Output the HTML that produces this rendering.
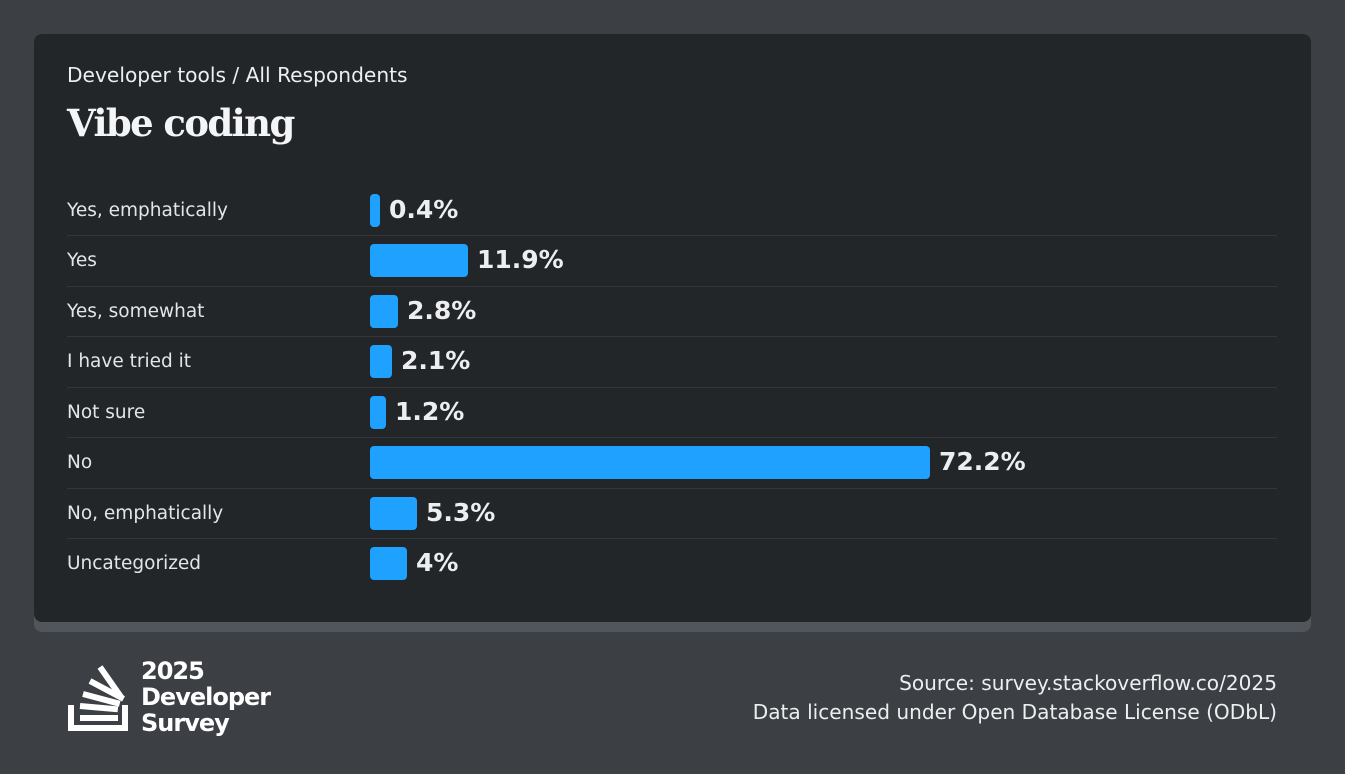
<!DOCTYPE html>
<html><head><meta charset="utf-8"><style>
body{margin:0;width:1345px;height:774px;background:#3c4045;font-family:"DejaVu Sans","Liberation Sans",sans-serif;overflow:hidden;position:relative}
.shadow{position:absolute;left:34px;top:40px;width:1277px;height:592px;background:#51565c;border-radius:8px}
.card{position:absolute;left:34px;top:34px;width:1277px;height:588px;background:#232629;border-radius:8px}
.t{position:absolute;color:#eceeef;white-space:nowrap}
.lab{font-size:18.5px;left:67px;color:#e3e5e7;margin-top:1px}
.bar{position:absolute;left:370px;height:33px;background:#1ea1ff;border-radius:4px}
.val{font-size:25px;font-weight:bold}
.sep{position:absolute;left:67px;width:1210px;height:1px;background:#33373b}
</style></head><body>
<div class="shadow"></div><div class="card"></div>
<div class="t" style="left:67px;top:63px;font-size:20.2px">Developer tools / All Respondents</div>
<div class="t" style="left:67px;top:101px;font-size:37px;font-weight:bold;font-family:'DejaVu Serif','Liberation Serif',serif;letter-spacing:-1.6px;color:#f4f5f6">Vibe coding</div>

<div class="t lab" style="top:199px">Yes, emphatically</div>
<div class="bar" style="top:194px;width:10px"></div><div class="t val" style="left:389px;top:195px">0.4%</div>
<div class="sep" style="top:235px"></div>
<div class="t lab" style="top:249px">Yes</div>
<div class="bar" style="top:244px;width:98px"></div><div class="t val" style="left:477px;top:245px">11.9%</div>
<div class="sep" style="top:286px"></div>
<div class="t lab" style="top:300px">Yes, somewhat</div>
<div class="bar" style="top:295px;width:28px"></div><div class="t val" style="left:407px;top:296px">2.8%</div>
<div class="sep" style="top:336px"></div>
<div class="t lab" style="top:350px">I have tried it</div>
<div class="bar" style="top:345px;width:22px"></div><div class="t val" style="left:401px;top:346px">2.1%</div>
<div class="sep" style="top:387px"></div>
<div class="t lab" style="top:401px">Not sure</div>
<div class="bar" style="top:396px;width:16px"></div><div class="t val" style="left:395px;top:397px">1.2%</div>
<div class="sep" style="top:437px"></div>
<div class="t lab" style="top:451px">No</div>
<div class="bar" style="top:446px;width:560px"></div><div class="t val" style="left:939px;top:447px">72.2%</div>
<div class="sep" style="top:488px"></div>
<div class="t lab" style="top:502px">No, emphatically</div>
<div class="bar" style="top:497px;width:47px"></div><div class="t val" style="left:426px;top:498px">5.3%</div>
<div class="sep" style="top:538px"></div>
<div class="t lab" style="top:552px">Uncategorized</div>
<div class="bar" style="top:547px;width:37px"></div><div class="t val" style="left:416px;top:548px">4%</div>

<svg style="position:absolute;left:66px;top:656px" width="66" height="80" viewBox="0 0 66 80">
<g fill="#fff">
<path d="M2 49h6v20h48v-20h6v26H2z"/>
<rect x="14" y="59" width="38" height="6"/>
<rect x="14" y="47" width="38" height="6" transform="rotate(5 14 50)"/>
<rect x="17" y="35" width="38" height="6" transform="rotate(15 17 38)"/>
<rect x="24" y="22" width="38" height="6" transform="rotate(28 24 25)"/>
<rect x="34" y="8" width="38" height="6" transform="rotate(55 34 11)"/>
</g></svg>
<div class="t" style="left:141px;top:658px;font-size:24px;font-weight:bold;line-height:26px;letter-spacing:-1px;color:#fff">2025<br>Developer<br>Survey</div>
<div class="t" style="right:68px;top:669px;font-size:20.1px;text-align:right;line-height:29px;color:#eceeef">Source: survey.stackoverflow.co/2025<br>Data licensed under Open Database License (ODbL)</div>
</body></html>
